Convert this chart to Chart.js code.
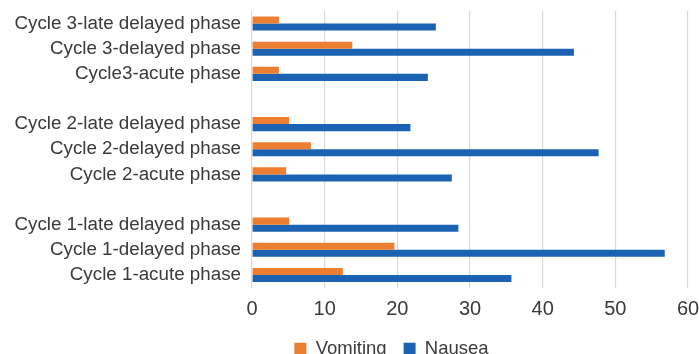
<!DOCTYPE html>
<html>
<head>
<meta charset="utf-8">
<script src="https://cdn.jsdelivr.net/npm/chart.js@4"></script>
<style>
  html, body { margin: 0; padding: 0; background: #fff; overflow: hidden; }
  #wrap { position: relative; width: 699px; height: 377px; }
</style>
</head>
<body>
<div id="wrap"><canvas id="phaseChart"></canvas></div>
<script>
// Categories top to bottom, blank entries are the gaps between cycles
const phaseLabels = [
    'Cycle 3-late delayed phase', 'Cycle 3-delayed phase', 'Cycle3-acute phase', '',
    'Cycle 2-late delayed phase', 'Cycle 2-delayed phase', 'Cycle 2-acute phase', '',
    'Cycle 1-late delayed phase', 'Cycle 1-delayed phase', 'Cycle 1-acute phase'
];
const vomiting = [3.7, 13.8, 3.7, null, 5.1, 8.1, 4.7, null, 5.1, 19.6, 12.5];
const nausea = [25.3, 44.3, 24.2, null, 21.8, 47.7, 27.5, null, 28.4, 56.8, 35.7];
const xTicks = [0, 10, 20, 30, 40, 50, 60];

const textColor = '#3a3a3a';
const fontFamily = '"Liberation Sans", Arial, Helvetica, sans-serif';

// legend in the original sits centred under the right part of the chart
const legendShift = {
    id: 'legendShift',
    afterLayout(chart) {
        const lg = chart.legend;
        if (!lg) return;
        lg.left = 95;
        lg.top -= 9;
        lg.bottom -= 9;
    }
};

const ctx = document.getElementById('phaseChart').getContext('2d');
const phaseChart = new Chart(ctx, {
    type: 'bar',
    data: {
        labels: phaseLabels,
        datasets: [{
            label: 'Vomiting',
            data: vomiting,
            backgroundColor: '#ED7D31',
            categoryPercentage: 0.56,
            barPercentage: 1
        }, {
            label: 'Nausea',
            data: nausea,
            backgroundColor: '#1B62B3',
            categoryPercentage: 0.56,
            barPercentage: 1
        }]
    },
    options: {
        indexAxis: 'y',
        responsive: true,
        maintainAspectRatio: false,
        animation: false,
        layout: { padding: { top: 11, right: 11, left: 0, bottom: 0 } },
        scales: {
            y: {
                grid: { display: false, drawTicks: false },
                border: { display: false },
                ticks: {
                    color: textColor,
                    padding: 11,
                    autoSkip: false,
                    font: { family: fontFamily, size: 18.8 }
                },
                afterFit: (scale) => {
                    scale.width = 252;
                    scale.paddingTop = 0;
                    scale.paddingBottom = 0;
                }
            },
            x: {
                min: xTicks[0],
                max: xTicks[xTicks.length - 1],
                afterBuildTicks: (scale) => { scale.ticks = xTicks.map(v => ({ value: v })); },
                grid: { color: '#d9d9d9', lineWidth: 1.2, drawTicks: false },
                border: { display: false },
                ticks: {
                    color: textColor,
                    padding: 10,
                    font: { family: fontFamily, size: 20 }
                },
                afterFit: (scale) => {
                    scale.paddingLeft = 0;
                    scale.paddingRight = 0;
                }
            }
        },
        plugins: {
            legend: {
                position: 'bottom',
                labels: {
                    color: textColor,
                    boxWidth: 12,
                    boxHeight: 12,
                    padding: 17,
                    font: { family: fontFamily, size: 18.5 }
                }
            },
            tooltip: { enabled: false }
        }
    },
    plugins: [legendShift]
});
</script>
</body>
</html>
